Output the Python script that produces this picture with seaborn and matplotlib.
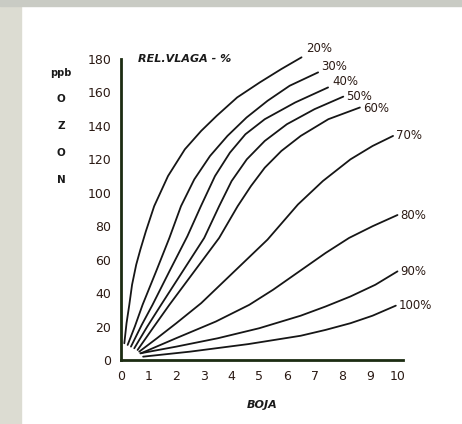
import numpy as np
import pandas as pd
import seaborn as sns
from matplotlib import pyplot as plt
from matplotlib.patches import Rectangle

# relative humidity curves: ozone (ppb) vs colour scale (BOJA)
x20 = [0.12, 0.2, 0.3, 0.4, 0.55, 0.7, 0.9, 1.2, 1.7, 2.31, 2.9, 3.46, 4.2, 5.02, 5.8, 6.53]
y20 = [10, 22, 33, 45, 57, 66, 77, 92, 110, 126, 137, 146, 157, 166, 174, 181]

x30 = [0.24, 0.5, 0.78, 1.27, 1.75, 2.17, 2.65, 3.22, 3.85, 4.54, 5.3, 6.1, 7.13]
y30 = [9, 20, 33, 53, 73, 92, 108, 122, 134, 145, 155, 164, 172]

x40 = [0.36, 0.75, 1.14, 1.75, 2.4, 2.89, 3.4, 3.94, 4.5, 5.2, 6.3, 7.49]
y40 = [8, 21, 33, 53, 74, 92, 110, 124, 135, 144, 154, 163]

x50 = [0.48, 0.95, 1.45, 2.23, 3.01, 3.55, 4.0, 4.55, 5.2, 6.0, 7.0, 8.04]
y50 = [7, 20, 33, 53, 73, 92, 107, 120, 131, 141, 150, 157.5]

x60 = [0.6, 1.15, 1.75, 2.65, 3.55, 4.22, 4.7, 5.2, 5.8, 6.5, 7.5, 8.64]
y60 = [6, 19, 33, 53, 73, 92, 104, 115, 125, 134, 144, 151]

x70 = [0.66, 1.3, 2.0, 2.9, 4.1, 5.3, 6.4, 7.3, 8.3, 9.1, 9.84]
y70 = [5, 13, 22, 34, 53, 72, 93, 107, 120, 128, 134]

x80 = [0.72, 1.99, 3.43, 4.64, 5.5, 6.45, 7.4, 8.25, 9.1, 10.0]
y80 = [4, 13, 23, 33, 42, 53, 64, 73, 80, 86.7]

x90 = [0.7, 2.0, 3.5, 5.0, 6.5, 7.4, 8.3, 9.2, 10.0]
y90 = [4, 8, 13, 19, 26.5, 32, 38, 45, 53]

x100 = [0.8, 2.5, 4.6, 6.5, 7.4, 8.3, 9.1, 9.94]
y100 = [2, 5, 9.5, 14.5, 18, 22, 26.5, 32.5]

rh_labels = ['20%', '30%', '40%', '50%', '60%', '70%', '80%', '90%', '100%']
curves = [(x20, y20), (x30, y30), (x40, y40), (x50, y50), (x60, y60),
          (x70, y70), (x80, y80), (x90, y90), (x100, y100)]

x_ticks = [0, 1, 2, 3, 4, 5, 6, 7, 8, 9, 10]
y_ticks = [0, 20, 40, 60, 80, 100, 120, 140, 160, 180]

sns.set_style('white')
plt.rcParams['font.family'] = ['DejaVu Sans']

fig = plt.figure(figsize=(4.62, 4.24), dpi=100)
fig.patch.set_facecolor('white')

# grey frame of the screenshot (left and top strips)
fig.patches.append(Rectangle((0, 0), 21 / 462, 1, transform=fig.transFigure,
                             color='#dcdcd2', zorder=0))
fig.patches.append(Rectangle((0, 1 - 6 / 424), 1, 6 / 424, transform=fig.transFigure,
                             color='#c9cbc4', zorder=0))

ax = fig.add_axes([121 / 462, 64 / 424, 282 / 462, 301 / 424])
ax.set_facecolor('none')

line_col = '#161616'
axis_col = '#1c2c12'
text_col = '#2b1a14'

# label offsets in points (dx, dy) from the curve end
offsets = [(3, 6), (2, 4), (3, 4), (2, 0), (2, -1), (2, 0), (2, 0), (2, 0), (2, 0)]

for (xs, ys), lab, off in zip(curves, rh_labels, offsets):
    df = pd.DataFrame({'x': xs, 'y': ys})
    sns.lineplot(data=df, x='x', y='y', sort=False, estimator=None,
                 color=line_col, lw=1.3, ax=ax, clip_on=False)
    ax.annotate(lab, (xs[-1], ys[-1]), xytext=off, textcoords='offset points',
                ha='left', va='center', fontsize=8.5, color=text_col,
                annotation_clip=False)

ax.set_xlim(0, 10.2)
ax.set_ylim(0, 180)
ax.set_xticks(x_ticks)
ax.set_yticks(y_ticks)
ax.tick_params(axis='both', direction='out', length=5, width=2, color=axis_col,
               labelsize=9, labelcolor=text_col, pad=2)
for s in ['top', 'right']:
    ax.spines[s].set_visible(False)
for s in ['left', 'bottom']:
    ax.spines[s].set_color(axis_col)
    ax.spines[s].set_linewidth(2)
ax.set_xlabel('')
ax.set_ylabel('')

ax.text(0.06, 1.0, 'REL.VLAGA - %', transform=ax.transAxes, fontsize=8,
        style='italic', fontweight='bold', color='#1a1a1a', va='center')
ax.text(0.5, -0.15, 'BOJA', transform=ax.transAxes, fontsize=8,
        style='italic', fontweight='bold', color='#1a1a1a', ha='center', va='center')

fig.text(61 / 462, 1 - 73 / 424, 'ppb', fontsize=7, fontweight='bold',
         color='#1a1a1a', ha='center', va='center')
for i, ch in enumerate('OZON'):
    fig.text(61 / 462, 1 - (99 + 27 * i) / 424, ch, fontsize=7.5, fontweight='bold',
             color='#1a1a1a', ha='center', va='center')

fig.savefig('out.png', dpi=100)
